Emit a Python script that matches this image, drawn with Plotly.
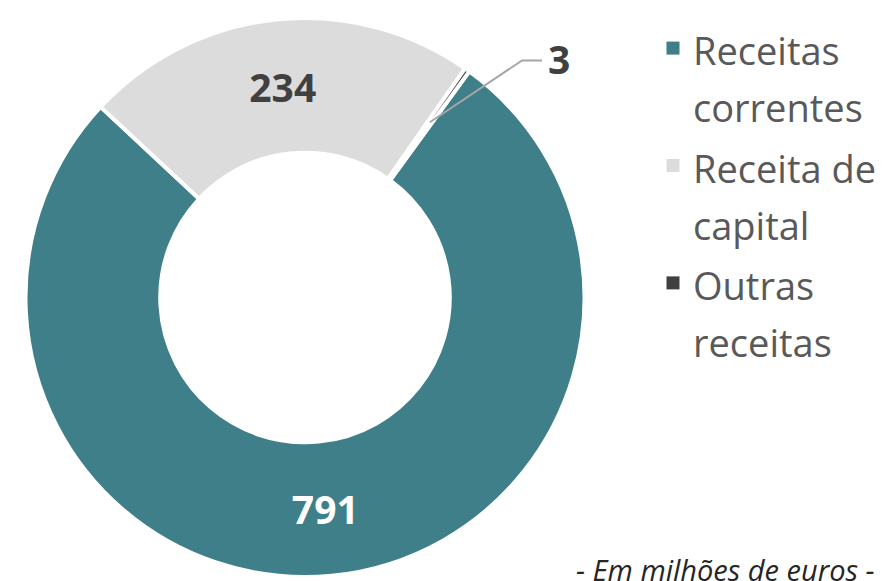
import math
import plotly.graph_objects as go

# ---- data ----
labels = ["Receitas correntes", "Receita de capital", "Outras receitas"]
legend_names = ["Receitas<br>correntes", "Receita de<br>capital", "Outras<br>receitas"]
values = [791, 234, 3]
slice_text = ["791", "234", ""]
colors = ["#3E7F8A", "#DCDCDC", "#404040"]
text_colors = ["#FFFFFF", "#404040", "#404040"]
footnote = "- Em milhões de euros -"

# ---- geometry / style ----
W, H = 889, 581
ROT = 36          # start angle of first slice (deg, clockwise from 12 o'clock)
HOLE = 0.518
dom_x = [25 / W, 585 / W]
dom_y = [1 - 577 / H, 1 - 18 / H]
cx = (dom_x[0] + dom_x[1]) / 2 * W
cy = (1 - (dom_y[0] + dom_y[1]) / 2) * H
R = min((dom_x[1] - dom_x[0]) * W, (dom_y[1] - dom_y[0]) * H) / 2

fig = go.Figure()
fig.add_trace(go.Pie(
    labels=labels,
    values=values,
    text=slice_text,
    textinfo="text",
    textposition=["inside", "inside", "none"],
    insidetextorientation="horizontal",
    textfont=dict(family="Open Sans", size=39, color=text_colors, weight="bold"),
    marker=dict(colors=colors, line=dict(color="white", width=4)),
    hole=HOLE,
    rotation=ROT,
    direction="clockwise",
    sort=False,
    domain=dict(x=dom_x, y=dom_y),
    hoverinfo="label+value",
    showlegend=False,
))

# legend entries (square swatches)
for name, col in zip(legend_names, colors):
    fig.add_trace(go.Scatter(
        x=[None], y=[None], mode="markers",
        marker=dict(symbol="square", size=13, color=col),
        name=f'<span style="font-size:38px">{name}</span>',
        showlegend=True, hoverinfo="skip",
    ))

# leader line for the small slice
total = sum(values)
before = sum(values[:2])
mid = math.radians(ROT + (before + values[2] / 2) / total * 360)
elb = mid + math.radians(7)
def px(a, r):
    return cx + r * math.sin(a), cy - r * math.cos(a)
x0, y0 = px(mid, 0.77 * R)
x1, y1 = px(elb, 1.15 * R)
x2, y2 = x1 + 20, y1
to_p = lambda x, y: (x / W, 1 - y / H)
p0, p1, p2 = to_p(x0, y0), to_p(x1, y1), to_p(x2, y2)
fig.add_shape(type="path", xref="paper", yref="paper",
              path=f"M {p0[0]},{p0[1]} L {p1[0]},{p1[1]} L {p2[0]},{p2[1]}",
              line=dict(color="#A6A6A6", width=2))
fig.add_annotation(x=(x2 + 4) / W, y=1 - (y2 - 2) / H, xref="paper", yref="paper",
                   text=f"<b>{values[2]}</b>", showarrow=False,
                   xanchor="left", yanchor="middle",
                   font=dict(family="Open Sans", size=39, color="#404040"))

fig.add_annotation(x=877 / W, y=1 - 569 / H, xref="paper", yref="paper",
                   text=f"<i>{footnote}</i>", showarrow=False,
                   xanchor="right", yanchor="middle",
                   font=dict(family="Open Sans", size=29, color="#262626"))

fig.update_layout(
    width=W, height=H,
    margin=dict(l=0, r=0, t=0, b=0, autoexpand=False),
    paper_bgcolor="white", plot_bgcolor="white",
    xaxis=dict(visible=False), yaxis=dict(visible=False),
    showlegend=True,
    legend=dict(x=653 / W, y=1 - 13 / H, xanchor="left", yanchor="top",
                valign="top",
                font=dict(family="Open Sans", size=44, color="#595959"),
                bgcolor="rgba(0,0,0,0)"),
)

fig.write_html("out.html",
               config={"displayModeBar": False},
               post_script="document.body.style.margin='0px';document.body.style.overflow='hidden';")
